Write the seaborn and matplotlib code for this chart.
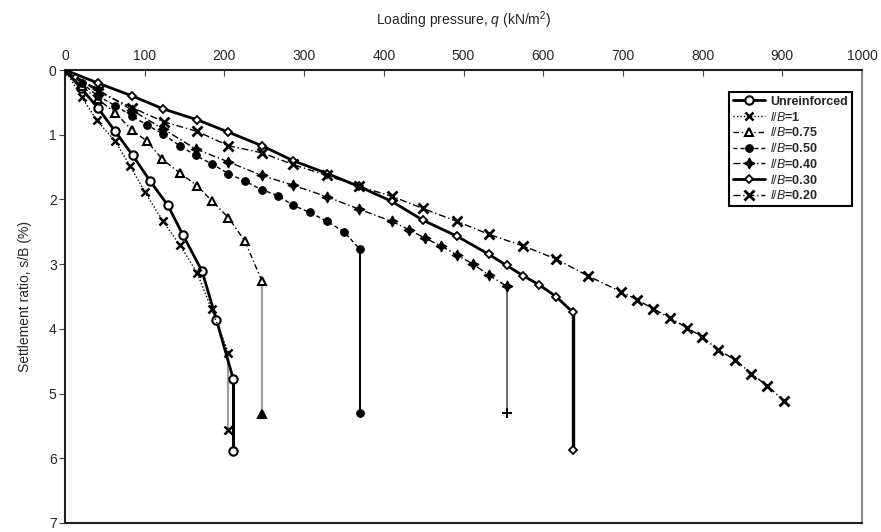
import matplotlib
matplotlib.use("Agg")
import matplotlib.pyplot as plt
import seaborn as sns
import pandas as pd

# ---- data (q in kN/m^2, s/B in %) ----
q_unr = [0, 20, 41, 63, 85, 107, 129, 148, 172, 190, 211]
s_unr = [0, 0.28, 0.58, 0.95, 1.32, 1.72, 2.09, 2.55, 3.11, 3.86, 4.77]
end_unr = 5.88

q_lb100 = [0, 21, 40, 63, 82, 100, 123, 144, 166, 184, 205]
s_lb100 = [0, 0.42, 0.78, 1.1, 1.49, 1.88, 2.34, 2.7, 3.14, 3.7, 4.37]
end_lb100 = 5.57

q_lb075 = [0, 21, 41, 63, 84, 103, 122, 144, 166, 184, 205, 226, 247]
s_lb075 = [0, 0.25, 0.45, 0.66, 0.93, 1.1, 1.38, 1.59, 1.79, 2.02, 2.28, 2.65, 3.26]
end_lb075 = 5.31

q_lb050 = [0, 21, 41, 63, 84, 103, 123, 144, 164, 184, 205, 226, 247, 267, 286, 307, 329, 350, 370]
s_lb050 = [0, 0.2, 0.4, 0.55, 0.71, 0.85, 0.99, 1.17, 1.32, 1.45, 1.6, 1.72, 1.85, 1.94, 2.09, 2.2, 2.34, 2.5, 2.77]
end_lb050 = 5.3

q_lb040 = [0, 41, 84, 123, 164, 205, 247, 286, 329, 369, 410, 432, 452, 472, 492, 512, 532, 554]
s_lb040 = [0, 0.3, 0.62, 0.91, 1.22, 1.42, 1.63, 1.78, 1.96, 2.15, 2.34, 2.47, 2.6, 2.72, 2.86, 3.0, 3.17, 3.34]
end_lb040 = 5.3

q_lb030 = [0, 41, 84, 123, 166, 205, 247, 286, 329, 369, 410, 449, 492, 532, 554, 575, 595, 616, 637]
s_lb030 = [0, 0.2, 0.4, 0.6, 0.77, 0.96, 1.17, 1.4, 1.6, 1.8, 2.03, 2.32, 2.57, 2.85, 3.02, 3.18, 3.32, 3.5, 3.74]
end_lb030 = 5.87

q_lb020 = [0, 41, 84, 124, 166, 205, 247, 286, 329, 369, 410, 449, 492, 532, 575, 616, 656,
           698, 718, 738, 759, 780, 799, 819, 841, 861, 881, 902]
s_lb020 = [0, 0.33, 0.58, 0.8, 0.95, 1.17, 1.28, 1.46, 1.63, 1.8, 1.95, 2.14, 2.34, 2.54, 2.72,
           2.92, 3.18, 3.43, 3.55, 3.69, 3.83, 3.98, 4.12, 4.32, 4.48, 4.69, 4.88, 5.11]

labels = ["Unreinforced", "$l/B$=1", "$l/B$=0.75", "$l/B$=0.50", "$l/B$=0.40", "$l/B$=0.30", "$l/B$=0.20"]
x_ticks = [0, 100, 200, 300, 400, 500, 600, 700, 800, 900, 1000]
y_ticks = [0, 1, 2, 3, 4, 5, 6, 7]

sns.set_style("white")
plt.rcParams["font.family"] = ["Liberation Sans", "DejaVu Sans"]
plt.rcParams["mathtext.fontset"] = "custom"
plt.rcParams["mathtext.it"] = "Liberation Sans:italic"
plt.rcParams["mathtext.rm"] = "Liberation Sans"

fig = plt.figure(figsize=(8.81, 5.32), dpi=100)
ax = fig.add_axes([65 / 881, 1 - 523 / 532, (862 - 65) / 881, (523 - 70) / 532])

series = [
    (q_unr, s_unr, end_unr, labels[0],
     dict(lw=2.0, ls="-", marker="o", ms=6, mfc="white", mec="black", mew=1.5),
     dict(color="black", lw=2.2), dict(marker="o", ms=6, mfc="white", mec="black", mew=1.5)),
    (q_lb100, s_lb100, end_lb100, labels[1],
     dict(lw=1.0, ls=(0, (1, 1.5)), marker="x", ms=6, mec="black", mew=1.8),
     dict(color="#a0a0a0", lw=1.6), dict(marker="x", ms=6, mec="black", mew=1.8)),
    (q_lb075, s_lb075, end_lb075, labels[2],
     dict(lw=1.0, ls=(0, (4, 2, 1, 2)), marker="^", ms=6, mfc="white", mec="black", mew=1.5),
     dict(color="#a0a0a0", lw=1.6), dict(marker="^", ms=6, mfc="black", mec="black", mew=1.5)),
    (q_lb050, s_lb050, end_lb050, labels[3],
     dict(lw=1.0, ls=(0, (3, 2)), marker="o", ms=5.5, mfc="black", mec="black"),
     dict(color="black", lw=1.4), dict(marker="o", ms=5.5, mfc="black", mec="black")),
    (q_lb040, s_lb040, end_lb040, labels[4],
     dict(lw=1.0, ls=(0, (5, 2, 1, 2)), marker=(4, 1, 0), ms=8, mfc="black", mec="black"),
     dict(color="#555555", lw=1.2), dict(marker="+", ms=7, mec="black", mew=1.5)),
    (q_lb030, s_lb030, end_lb030, labels[5],
     dict(lw=2.0, ls="-", marker="D", ms=4.5, mfc="white", mec="black", mew=1.3),
     dict(color="black", lw=2.4), dict(marker="D", ms=4.5, mfc="white", mec="black", mew=1.3)),
    (q_lb020, s_lb020, None, labels[6],
     dict(lw=1.0, ls=(0, (5, 2, 1, 2)), marker="x", ms=7, mec="black", mew=2.0),
     None, None),
]

for q, s, end, lab, kw, dkw, ekw in series:
    if end is not None:
        dq = [q[-1], q[-1]]
        ds = [s[-1], end]
        sns.lineplot(x=dq, y=ds, ax=ax, sort=False, estimator=None, zorder=2, **dkw)
        sns.lineplot(x=[q[-1]], y=[end], ax=ax, sort=False, estimator=None,
                     color="black", lw=0, zorder=4, **ekw)
    sns.lineplot(x=q, y=s, ax=ax, sort=False, estimator=None, color="black",
                 label=lab, zorder=3, **kw)

ax.set_xlim(0, 1000)
ax.set_ylim(7, 0)
ax.xaxis.tick_top()
ax.xaxis.set_label_position("top")
ax.set_xticks(x_ticks)
ax.set_yticks(y_ticks)
ax.tick_params(axis="x", which="both", top=True, bottom=False, direction="in", length=4,
               labelsize=10, pad=5, color="#444444")
ax.tick_params(axis="y", which="both", left=True, direction="out", length=4,
               labelsize=10, pad=2, color="#444444")
ax.set_xlabel("Loading pressure, $q$ (kN/m$^2$)", fontsize=10, labelpad=17)
ax.set_ylabel("Settlement ratio, s/B (%)", fontsize=10, labelpad=12)

for side in ["top", "left", "bottom"]:
    ax.spines[side].set_visible(True)
    ax.spines[side].set_color("#222222")
    ax.spines[side].set_linewidth(1.5)
ax.spines["right"].set_color("#888888")
ax.spines["right"].set_linewidth(1.5)

leg = ax.legend(loc="upper right", bbox_to_anchor=(0.995, 0.965),
                frameon=True, fancybox=False, edgecolor="black", framealpha=1,
                handlelength=2.6, handletextpad=0.4, borderpad=0.3, labelspacing=0.22,
                prop={"weight": "bold", "size": 9})
leg.get_frame().set_linewidth(1.5)

fig.savefig("out.png", dpi=100)
